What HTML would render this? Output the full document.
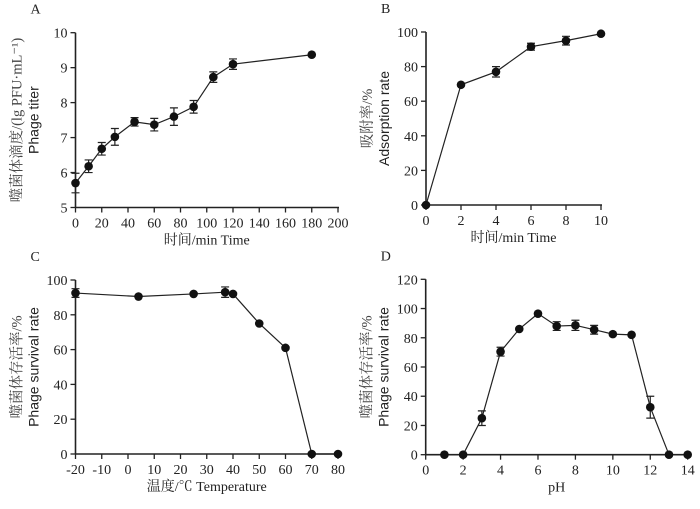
<!DOCTYPE html>
<html><head><meta charset="utf-8"><style>
html,body{margin:0;padding:0;background:#fff;width:700px;height:509px;overflow:hidden}
svg text{fill:#222}
</style></head><body>
<svg id="chart" width="700" height="509" xmlns="http://www.w3.org/2000/svg"></svg>
<script>
const aX=[0,10,20,30,45,60,75,90,105,120,180];
const aY=[5.7,6.18,6.68,7.02,7.45,7.37,7.6,7.88,8.73,9.1,9.37];
const aE=[0.28,0.18,0.18,0.24,0.12,0.18,0.25,0.18,0.15,0.15,0];
const bX=[0,2,4,6,8,10];
const bY=[0,69.5,77,91.5,95,99];
const bE=[0,0,3,2,2.5,0];
const cX=[-20,4,25,37,40,50,60,70,80];
const cY=[92.5,90.5,92,93,92,75,61,0,0];
const cE=[2.5,0,0,3,0,0,0,0,0];
const dX=[1,2,3,4,5,6,7,8,9,10,11,12,13,14];
const dY=[0,0,25,70.5,86,96.5,88,88.5,85.5,82.5,82,32.5,0,0];
const dE=[0,0,5,3,0,0,3,3.5,3,0,0,7.5,0,0];
const aXT=[0,20,40,60,80,100,120,140,160,180,200], aYT=[5,6,7,8,9,10];
const bXT=[0,2,4,6,8,10], bYT=[0,20,40,60,80,100];
const cXT=[-20,-10,0,10,20,30,40,50,60,70,80], cYT=[0,20,40,60,80,100];
const dXT=[0,2,4,6,8,10,12,14], dYT=[0,20,40,60,80,100,120];

const svg=document.getElementById('chart');
const NS='http://www.w3.org/2000/svg';
function mk(tag,attrs,parent){const e=document.createElementNS(NS,tag);for(const k in attrs)e.setAttribute(k,attrs[k]);parent.appendChild(e);return e;}
function panel(id,letter,box,xd,yd,xt,yt,xs,ys,es,xlab,ylab1,ylab2){
  const g=mk('g',{},svg);
  
  
  const [x0,x1,y0,y1]=box;
  const sx=v=>x0+(v-xd[0])/(xd[1]-xd[0])*(x1-x0);
  const sy=v=>y0-(v-yd[0])/(yd[1]-yd[0])*(y0-y1);
  const L=mk('text',{x:x0-45,y:y1-19,'font-family':'Liberation Serif,serif','font-size':14},g);L.textContent=letter;
  
  
  const ax=mk('line',{x1:x0,y1:y0,x2:x1+1,y2:y0,stroke:'#222','stroke-width':1.6},g);
  
  
  const ay=mk('line',{x1:x0,y1:y0,x2:x0,y2:y1,stroke:'#222','stroke-width':1.6},g);
  
  
  xt.forEach(v=>{const X=sx(v);mk('line',{x1:X,y1:y0,x2:X,y2:y0+5,stroke:'#222','stroke-width':1.3},g);
    const t=mk('text',{x:X,y:y0+20,'text-anchor':'middle','font-family':'Liberation Serif,serif','font-size':14},g);t.textContent=v;
    
    });
  yt.forEach(v=>{const Y=sy(v);mk('line',{x1:x0-5,y1:Y,x2:x0,y2:Y,stroke:'#222','stroke-width':1.3},g);
    const t=mk('text',{x:x0-8,y:Y+5,'text-anchor':'end','font-family':'Liberation Serif,serif','font-size':14},g);t.textContent=v;
    
    });
  const xl=mk('text',{x:(x0+x1)/2,y:y0+37,'text-anchor':'middle','font-family':'Liberation Serif,Noto Serif CJK SC,serif','font-size':14},g);xl.textContent=xlab;
  
  
  const cy=(y0+y1)/2;
  const t1=mk('text',{x:0,y:0,transform:`translate(${x0-54},${cy}) rotate(-90)`,'text-anchor':'middle','font-family':'Liberation Serif,Noto Serif CJK SC,serif','font-size':14.5,style:'fill:#444'},g);t1.textContent=ylab1;
  
  
  const t2=mk('text',{x:0,y:0,transform:`translate(${x0-37},${cy}) rotate(-90)`,'text-anchor':'middle','font-family':'Liberation Sans,sans-serif','font-size':14},g);t2.textContent=ylab2;
  
  
  const pts=xs.map((v,i)=>sx(v)+','+sy(ys[i])).join(' ');
  const pl=mk('polyline',{points:pts,fill:'none',stroke:'#222','stroke-width':1.2},g);
  
  
  xs.forEach((v,i)=>{const X=sx(v),Y=sy(ys[i]);
    if(es[i]>0){const Ya=sy(ys[i]+es[i]),Yb=sy(ys[i]-es[i]);
      const e=mk('path',{d:`M${X},${Ya}V${Yb}M${X-4},${Ya}H${X+4}M${X-4},${Yb}H${X+4}`,stroke:'#222','stroke-width':1.2,fill:'none'},g);
      
      }
    const c=mk('circle',{cx:X,cy:Y,r:4.3,fill:'#111'},g);
    
    });
}
panel('a','A',[75.5,338,207.5,32.7],[0,200],[5,10],aXT,aYT,aX,aY,aE,'时间/min Time','噬菌体滴度/(lg PFU·mL⁻¹)','Phage titer');
panel('b','B',[426,601,205,32],[0,10],[0,100],bXT,bYT,bX,bY,bE,'时间/min Time','吸附率/%','Adsorption rate');
panel('c','C',[75.5,338,454,280],[-20,80],[0,100],cXT,cYT,cX,cY,cE,'温度/℃  Temperature','噬菌体存活率/%','Phage survival rate');
panel('d','D',[425.7,687.7,454.7,279.3],[0,14],[0,120],dXT,dYT,dX,dY,dE,'pH','噬菌体存活率/%','Phage survival rate');
</script>
</body></html>
